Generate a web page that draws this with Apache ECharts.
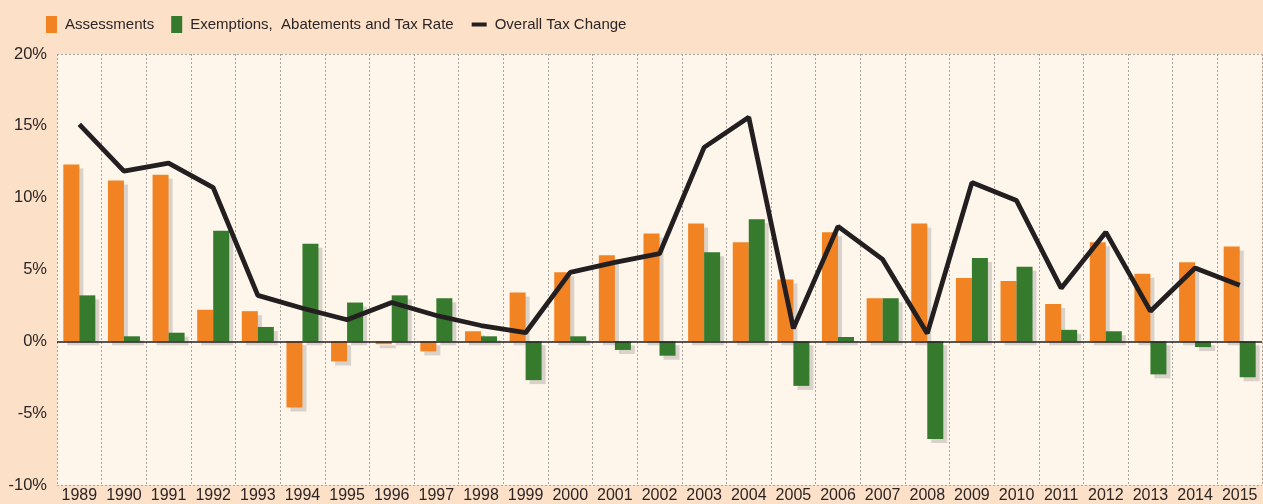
<!DOCTYPE html>
<html>
<head>
<meta charset="utf-8">
<script src="https://cdn.jsdelivr.net/npm/echarts@6/dist/echarts.min.js"></script>
<style>
html,body{margin:0;padding:0;background:#FCE0C8;}
#chart{width:1263px;height:504px;}
</style>
</head>
<body>
<div id="chart"></div>
<script>
const years = ['1989','1990','1991','1992','1993','1994','1995','1996','1997','1998','1999','2000','2001','2002','2003','2004','2005','2006','2007','2008','2009','2010','2011','2012','2013','2014','2015'];
const assessments = [12.3,11.2,11.6,2.2,2.1,-4.6,-1.4,-0.2,-0.7,0.7,3.4,4.8,6.0,7.5,8.2,6.9,4.3,7.6,3.0,8.2,4.4,4.2,2.6,6.9,4.7,5.5,6.6];
const exemptions = [3.2,0.35,0.6,7.7,1.0,6.8,2.7,3.2,3.0,0.35,-2.7,0.35,-0.6,-1.0,6.2,8.5,-3.1,0.3,3.0,-6.8,5.8,5.2,0.8,0.7,-2.3,-0.4,-2.5];
const overall = [15.1,11.85,12.4,10.7,3.2,2.3,1.5,2.7,1.8,1.1,0.6,4.8,5.5,6.1,13.5,15.6,0.9,8.0,5.7,0.55,11.05,9.8,3.7,7.6,2.1,5.1,3.9];
const legendNames = ['Assessments', 'Exemptions,  Abatements and Tax Rate', 'Overall Tax Change'];

const FONT = "'Liberation Sans', Arial, sans-serif";
const TXT = '#2b2526';
const LEG_SIZE = 15;

// measure legend text widths to lay out the three legend entries
const ctx = document.createElement('canvas').getContext('2d');
ctx.font = LEG_SIZE + 'px ' + FONT;
const w0 = ctx.measureText(legendNames[0]).width;
const w1 = ctx.measureText(legendNames[1]).width;
const left0 = 41;
const left1 = left0 + 11 + 8 + w0 + 17;
const left2 = left1 + 11 + 8 + w1 + 18;

const chart = echarts.init(document.getElementById('chart'));
const legendBase = {
  top: 11,
  textStyle: {fontFamily: FONT, fontSize: LEG_SIZE, color: TXT, padding: [0,0,0,3]}
};
chart.setOption({
  backgroundColor: '#FCE0C8',
  animation: false,
  legend: [
    Object.assign({}, legendBase, {left: left0, itemWidth: 11, itemHeight: 17, icon: 'rect', data: [legendNames[0]]}),
    Object.assign({}, legendBase, {left: left1, itemWidth: 11, itemHeight: 17, icon: 'rect', data: [legendNames[1]]}),
    Object.assign({}, legendBase, {left: left2, top: 12, itemWidth: 15, itemHeight: 4, icon: 'rect', data: [legendNames[2]]})
  ],
  grid: {left: 57, right: 1, top: 54, bottom: 17, show: true, backgroundColor: '#FEF6EA', borderWidth: 0},
  xAxis: {
    type: 'category', data: years, boundaryGap: true,
    axisLine: {show: false}, axisTick: {show: false},
    axisLabel: {fontFamily: FONT, fontSize: 16, color: TXT, margin: 3, interval: 0},
    splitLine: {show: true, interval: 0, lineStyle: {type: [2,2], color: '#aaa49e', width: 1}}
  },
  yAxis: [
    {
      type: 'value', min: -10, max: 20, interval: 5,
      axisLine: {show: false}, axisTick: {show: false}, splitLine: {show: false},
      axisLabel: {fontFamily: FONT, fontSize: 16.5, color: TXT, margin: 10, formatter: v => v + '%'}
    },
    {
      type: 'value', min: -10, max: 20, interval: 30, position: 'left',
      axisLine: {show: false}, axisTick: {show: false}, axisLabel: {show: false},
      splitLine: {show: true, lineStyle: {type: [2,2], color: '#aaa49e', width: 1}}
    }
  ],
  series: [
    {
      name: legendNames[0], type: 'bar', data: assessments, barWidth: 16, barGap: '0%',
      itemStyle: {color: '#F28322', shadowColor: 'rgba(120,120,120,0.28)', shadowBlur: 0, shadowOffsetX: 4, shadowOffsetY: 4}
    },
    {
      name: legendNames[1], type: 'bar', data: exemptions, barWidth: 16, barGap: '0%',
      itemStyle: {color: '#357A2D', shadowColor: 'rgba(120,120,120,0.28)', shadowBlur: 0, shadowOffsetX: 4, shadowOffsetY: 4}
    },
    {
      name: legendNames[2], type: 'line', data: overall, symbol: 'none', z: 5,
      lineStyle: {color: '#231F20', width: 4.8},
      itemStyle: {color: '#231F20'},
      markLine: {
        silent: true, symbol: 'none', label: {show: false},
        lineStyle: {color: '#231F20', type: 'solid', width: 1.5},
        data: [{yAxis: 0}]
      }
    }
  ]
});
</script>
</body>
</html>
